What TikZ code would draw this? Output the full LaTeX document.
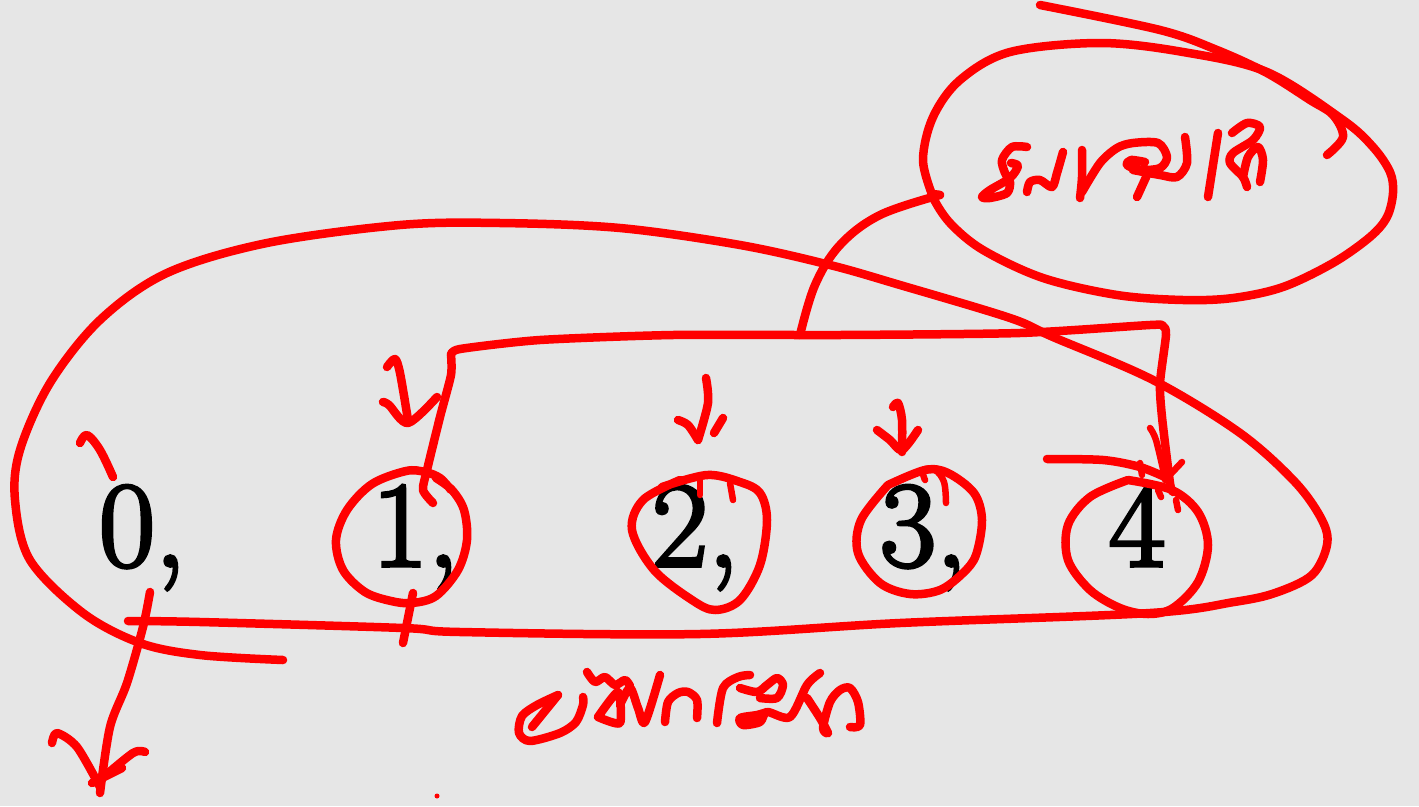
\documentclass[tikz,border=0pt]{standalone}
\usepackage{fontspec}
\newfontfamily\digitfont[FakeBold=3]{Latin Modern Roman}
\definecolor{bgc}{RGB}{230,230,230}
\definecolor{pencol}{RGB}{255,0,0}
\begin{document}
\begin{tikzpicture}[x=1pt,y=-1pt,
  pen/.style={draw=pencol, line width=8.5pt, line cap=round, line join=round},
  penthin/.style={pen, line width=6.5pt},
  digit/.style={inner sep=0pt, outer sep=0pt, anchor=base west, font=\digitfont\fontsize{122}{122}\selectfont, text=black}]
\fill[bgc] (0,0) rectangle (1419,806);
\useasboundingbox (0,0) rectangle (1419,806);

% digits
\node[digit] (d0) at (99,566) {0,};
\node[digit] (d1) at (372,566) {1,};
\node[digit] (d2) at (652,566) {2,};
\node[digit] (d3) at (880,566) {3,};
\node[digit] (d4) at (1109,566) {4};

% big loop around all numbers
\draw[pen] plot[smooth, tension=0.55] coordinates {(283,660) (200,655) (140,643) (83,613) (30,560) (15,500) (20,450) (50,383) (100,320) (167,273) (267,243) (400,225) (500,223) (620,228) (740,245) (830,265) (900,285) (1010,318) (1053,337) (1153,380) (1240,433) (1295,482) (1322,520) (1327,545) (1312,575) (1275,593) (1234,602) (1150,613) (900,623) (700,634) (460,632) (403,628) (200,622) (128,621)};

% top-right ellipse with long entry stroke
\draw[pen] plot[smooth, tension=0.55] coordinates {(1040,5) (1160,30) (1217,50) (1267,73) (1310,100) (1333,115) (1343,137) (1327,155)};
\draw[pen] plot[smooth, tension=0.55] coordinates {(933,197) (923,160) (933,117) (960,80) (1010,52) (1100,43) (1183,52) (1267,72) (1343,120) (1373,147) (1390,172) (1393,193) (1387,217) (1370,237) (1333,263) (1283,287) (1233,298) (1183,300) (1117,295) (1043,278) (983,250) (950,223) (933,197) (940,195)};

% connector from ellipse down to bracket
\coordinate (ctop) at (940,195);
\coordinate (cbot) at (800,335);
\draw[pen] plot[smooth, tension=0.6] coordinates {(ctop) (880,215) (840,245) (815,285) (cbot)};

% bracket from 1 to 4
\draw[pen] plot[smooth, tension=0.4] coordinates {(433,503) (423,490) (427,470) (440,417) (451,375) (451,355)};
\draw[pen] plot[smooth, tension=0.4] coordinates {(451,355) (460,349) (540,340) (673,335) (840,335) (1020,333) (1150,325) (1163,326) (1166,335) (1160,383) (1162,417) (1170,483) (1173,492)};
% arrowhead at 4
\draw[penthin] plot[smooth, tension=0.5] coordinates {(1150,428) (1156,440) (1165,478)};
\draw[penthin] (1182,462) -- (1165,480);
\draw[penthin] (1161,497) -- (1158,490);
\draw[penthin] (1176,500) -- (1178,510);

% arrow to 1
\draw[pen] plot[smooth, tension=0.5] coordinates {(387,367) (395,359) (400,373) (408,420)};
\draw[pen] plot[smooth, tension=0.5] coordinates {(383,402) (389,405) (408,423) (437,397)};

% arrow to 2
\draw[pen] plot[smooth, tension=0.5] coordinates {(706,378) (708,403) (698,440)};
\draw[pen] plot[smooth, tension=0.5] coordinates {(678,420) (688,425) (698,440)};
\draw[pen] (723,418) -- (714,433);

% arrow to 3
\draw[pen] plot[smooth, tension=0.5] coordinates {(893,407) (898,403) (902,420) (902,452)};
\draw[pen] plot[smooth, tension=0.5] coordinates {(877,430) (890,440) (902,450) (918,430)};

% horizontal arrow into 4
\draw[pen] plot[smooth, tension=0.5] coordinates {(1047,459) (1103,460) (1140,467) (1167,478)};
\draw[penthin] (1140,463) -- (1142,475);

% circles
\draw[pen] plot[smooth, tension=0.55] coordinates {(451,490) (440,478) (425,472) (406,471) (372,484) (347,510) (336,540) (343,570) (365,592) (391,601) (412,603) (436,596) (458,570) (467,540) (464,510) (452,490) (436,478)};
\draw[pen] plot[smooth, tension=0.55] coordinates {(662,487) (707,475) (740,482) (760,493) (767,520) (760,565) (740,600) (715,610) (692,600) (654,570) (632,530) (643,500) (680,480)};
\draw[penthin] (700,480) -- (700,495);
\draw[penthin] (730,483) -- (733,500);
\draw[pen] plot[smooth, tension=0.55] coordinates {(888,485) (925,470) (948,473) (974,493) (982,520) (976,555) (963,573) (940,590) (910,594) (880,583) (858,553) (861,520) (888,485)};
\draw[penthin] plot[smooth, tension=0.6] coordinates {(925,480) (923,470) (935,470) (944,482) (946,503)};
\draw[pen] plot[smooth, tension=0.55] coordinates {(1128,480) (1090,497) (1068,525) (1068,560) (1090,590) (1120,608) (1148,614) (1173,608) (1198,582) (1208,545) (1198,512) (1172,490) (1128,480)};

% tick above 0
\draw[pen] plot[smooth, tension=0.6] coordinates {(80,443) (87,435) (100,450) (113,477)};

% arrow down from 0
\draw[pen] plot[smooth, tension=0.5] coordinates {(150,592) (143,627) (127,683) (110,727) (100,793)};
\draw[pen] plot[smooth, tension=0.5] coordinates {(52,743) (57,733) (77,747) (100,787)};
\draw[pen] plot[smooth, tension=0.5] coordinates {(145,752) (133,753) (100,780)};
\draw[pen] (92,783) -- (122,768);

% tick below 1
\draw[pen] (413,593) -- (403,643);

% stray dot
\fill[pencol] (437,796) circle (2.5pt);

% handwriting in top ellipse
\draw[pen] plot[smooth, tension=0.5] coordinates {(1027,147) (1012,147) (1002,160) (1005,173) (1010,182) (1007,193) (990,198) (982,197) (990,190) (1010,178) (1018,166) (1011,163)};
\draw[pen] plot[smooth, tension=0.5] coordinates {(1027,192) (1030,182) (1040,180) (1052,187) (1057,173) (1063,152)};
\draw[pen] plot[smooth, tension=0.5] coordinates {(1082,150) (1082,177) (1080,198)};
\draw[pen] plot[smooth, tension=0.5] coordinates {(1082,192) (1100,163) (1117,148) (1133,143) (1158,143) (1167,157) (1160,168) (1140,170) (1127,165) (1131,160) (1145,162)};
\draw[pen] plot[smooth, tension=0.5] coordinates {(1133,170) (1160,175) (1177,177) (1187,163) (1185,137)};
\draw[pen] (1147,175) -- (1137,197);
\draw[pen] (1218,133) -- (1208,197);
\draw[pen] plot[smooth, tension=0.5] coordinates {(1232,133) (1247,123) (1260,127) (1253,140) (1233,153) (1230,163) (1243,177) (1247,187)};
\draw[pen] plot[smooth, tension=0.5] coordinates {(1243,177) (1248,157) (1258,147) (1263,160) (1260,182)};

% handwriting at bottom
\draw[pen] plot[smooth, tension=0.5] coordinates {(558,695) (537,705) (522,716) (519,733) (530,741) (560,733) (576,722) (583,705) (583,697)};
\draw[pen] (558,695) -- (532,727);
\draw[pen] plot[smooth, tension=0.5] coordinates {(587,672) (595,682) (605,677) (615,685) (625,680) (630,686)};
\draw[pen] plot[smooth, tension=0.4] coordinates {(598,717) (618,692) (620,723) (598,717)};
\draw[pen] plot[smooth, tension=0.5] coordinates {(620,705) (630,688) (638,708) (645,722) (660,675)};
\draw[pen] plot[smooth, tension=0.5] coordinates {(665,722) (668,702) (678,693) (688,692) (697,700) (697,718)};
\draw[pen] plot[smooth, tension=0.5] coordinates {(717,723) (723,688) (738,677) (750,675)};
\draw[pen] plot[smooth, tension=0.5] coordinates {(740,688) (757,692) (767,685) (777,678) (783,685) (777,698) (760,698)};
\draw[pen] plot[smooth, tension=0.5] coordinates {(767,712) (757,715) (740,718) (743,725) (760,722) (767,712) (790,717) (807,685) (820,673)};
\draw[pen] plot[smooth, tension=0.5] coordinates {(807,698) (820,718) (828,733) (823,728) (830,702) (840,690) (850,688) (858,702) (860,725) (850,727)};
\end{tikzpicture}
\end{document}
